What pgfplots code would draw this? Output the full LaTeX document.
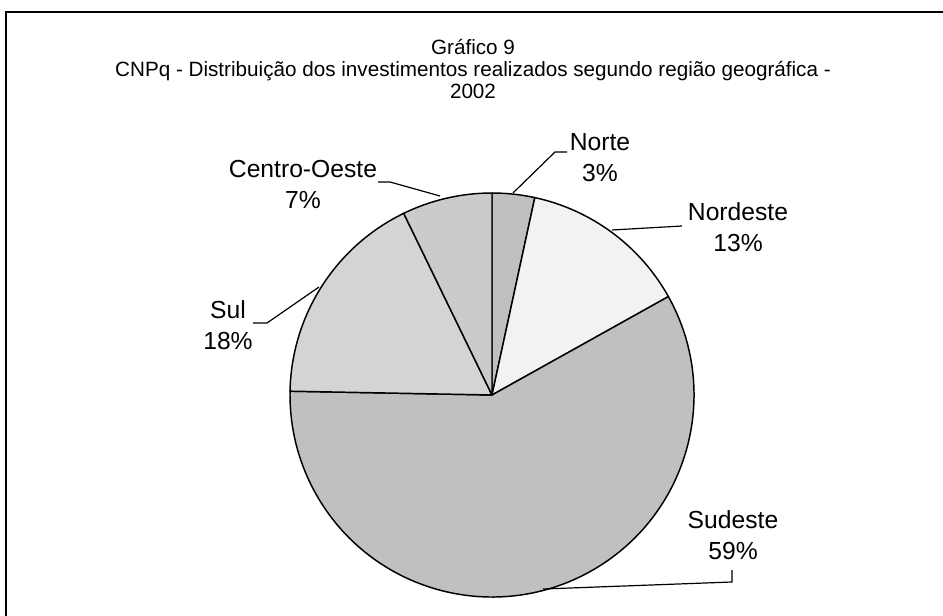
\documentclass[border=0pt]{standalone}
\usepackage{fontspec}
\setmainfont{Liberation Sans}
\usepackage{pgfplots}
\usepackage{pgfplotstable}
\pgfplotsset{compat=1.18}

\definecolor{pie0}{HTML}{C0C0C0}% Norte
\definecolor{pie1}{HTML}{F2F2F2}% Nordeste
\definecolor{pie2}{HTML}{C0C0C0}% Sudeste
\definecolor{pie3}{HTML}{D4D4D4}% Sul
\definecolor{pie4}{HTML}{CBCBCB}% Centro-Oeste

% share of each region (percent)
\pgfplotstableread{
name value
Norte 3.4
Nordeste 13.5
Sudeste 58.4
Sul 17.5
CentroOeste 7.2
}\pietable

\begin{document}
\begin{tikzpicture}
\def\cum{90}
\pgfplotsforeachungrouped \i in {0,...,4}{%
  \pgfplotstablegetelem{\i}{value}\of\pietable
  \pgfmathsetmacro\endang{\cum-3.6*\pgfplotsretval}%
  \expandafter\xdef\csname sa\i\endcsname{\cum}%
  \expandafter\xdef\csname ea\i\endcsname{\endang}%
  \xdef\cum{\endang}%
}
\begin{axis}[scale only axis, width=707.25pt, height=461.25pt,
  xmin=0, xmax=943, ymin=0, ymax=615, hide axis, clip=false]
  \coordinate (sw) at (axis cs:0,0);
  \coordinate (ne) at (axis cs:943,615);
  % frame
  \draw[line width=1.5pt] (axis cs:6,-30) -- (axis cs:6,603) -- (axis cs:980,603);
  % wedges
  \pgfplotsinvokeforeach{0,...,4}{%
    \filldraw[fill=pie#1, draw=black, line width=1.1pt, line join=round]
      (axis cs:492,220) -- ++(\csname sa#1\endcsname:151.5pt)
      arc[start angle=\csname sa#1\endcsname, end angle=\csname ea#1\endcsname, radius=151.5pt] -- cycle;
  }
  % title
  \node[font=\fontsize{15.5}{16.5}\selectfont, align=center] at (axis cs:473,546)
    {Gráfico 9\\CNPq - Distribuição dos investimentos realizados segundo região geográfica -\\2002};
  % leader lines
  \draw[line width=0.9pt] (axis cs:513,422) -- (axis cs:555,463) -- (axis cs:567,463);
  \draw[line width=0.9pt] (axis cs:612,385) -- (axis cs:682,389);
  \draw[line width=0.9pt] (axis cs:543,26) -- (axis cs:732,33) -- (axis cs:732,45);
  \draw[line width=0.9pt] (axis cs:319,328) -- (axis cs:267,292) -- (axis cs:253,292);
  \draw[line width=0.9pt] (axis cs:440,419) -- (axis cs:390,433) -- (axis cs:378,433);
  % labels
  \tikzset{lab/.style={font=\fontsize{18.5}{23.25}\selectfont, align=center}}
  \node[lab] at (axis cs:600,457.5) {Norte\\3\%};
  \node[lab] at (axis cs:738,387.5) {Nordeste\\13\%};
  \node[lab] at (axis cs:733,80) {Sudeste\\59\%};
  \node[lab] at (axis cs:228,290) {Sul\\18\%};
  \node[lab] at (axis cs:303,431) {Centro-Oeste\\7\%};
\end{axis}
\pgfresetboundingbox
\useasboundingbox (sw) rectangle (ne);
\end{tikzpicture}
\end{document}
